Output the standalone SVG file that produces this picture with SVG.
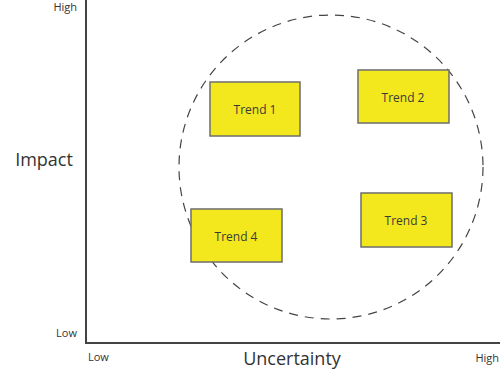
<svg xmlns="http://www.w3.org/2000/svg" width="500" height="380" viewBox="0 0 500 380">
<style>
.box{fill:#f3e81d;stroke:#6e6e6e;stroke-width:1.5}
.lbl{font-family:"Open Sans","Liberation Sans",sans-serif;font-size:12px;fill:#3a3a3a;text-anchor:middle}
.ax{font-family:"Open Sans","Liberation Sans",sans-serif;fill:#333}
</style>
<rect width="500" height="380" fill="#fff"/>
<g id="axes" stroke="#444" stroke-width="2" fill="none">
<line x1="86" y1="0" x2="86" y2="344"/>
<line x1="85" y1="343" x2="500" y2="343"/>
</g>
<g id="circle">
<circle cx="331" cy="167" r="152" fill="none" stroke="#444" stroke-width="1.2" stroke-dasharray="9,7"/>
</g>
<g id="trend1"><rect class="box" x="210" y="82" width="90" height="54"/><text class="lbl" x="255" y="114">Trend 1</text></g>
<g id="trend2"><rect class="box" x="358" y="70" width="91" height="53"/><text class="lbl" x="403" y="102">Trend 2</text></g>
<g id="trend3"><rect class="box" x="361" y="193" width="91" height="54"/><text class="lbl" x="406" y="225">Trend 3</text></g>
<g id="trend4"><rect class="box" x="191" y="209" width="91" height="53"/><text class="lbl" x="236" y="241">Trend 4</text></g>
<g id="labels">
<text class="ax" x="77" y="11" font-size="11" text-anchor="end">High</text>
<text class="ax" x="44" y="166" font-size="18" text-anchor="middle">Impact</text>
<text class="ax" x="77" y="337" font-size="11" text-anchor="end">Low</text>
<text class="ax" x="88" y="361" font-size="11">Low</text>
<text class="ax" x="292" y="365" font-size="18" text-anchor="middle">Uncertainty</text>
<text class="ax" x="499" y="362" font-size="11" text-anchor="end">High</text>
</g>
</svg>
